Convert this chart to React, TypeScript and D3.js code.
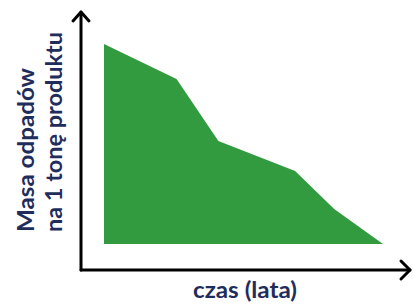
import React from 'react';
import * as d3 from 'd3';

// time (years, arbitrary units) and waste mass per tonne of product
const years = [0, 2.6, 4.1, 6.85, 8.25, 10];
const wasteMass = [100, 82.5, 51.5, 36.5, 17.5, 0];

const yLabelLines = ['Masa odpadów', 'na 1 tonę produktu'];
const xLabel = 'czas (lata)';

const W = 413;
const H = 304;
const navy = '#1f2d5c';
const green = '#339b3f';

const App = () => {
  const x = d3.scaleLinear().domain([0, 10]).range([104, 383]);
  const y = d3.scaleLinear().domain([0, 100]).range([244, 44]);

  const data = years.map((t, i) => ({ t, m: wasteMass[i] }));
  const area = d3.area<{ t: number; m: number }>()
    .x(d => x(d.t))
    .y0(y(0))
    .y1(d => y(d.m));

  const ax = 81;
  const ay = 270;

  return (
    <svg width={W} height={H} style={{ position: 'absolute', left: 0, top: 0 }}>
      <path d={area(data) || ''} fill={green} />

      <g stroke="#000" strokeWidth={3} fill="none" strokeLinecap="round" strokeLinejoin="round">
        <path d={`M${ax},${ay} L${ax},12`} />
        <path d={`M${ax - 8},21 L${ax},12 L${ax + 8},21`} />
        <path d={`M${ax},${ay} L410,${ay}`} />
        <path d={`M401,${ay - 9} L410,${ay} L401,${ay + 9}`} />
      </g>

      <g fill={navy} fontFamily="Lato, 'Open Sans', sans-serif" fontWeight="bold">
        {yLabelLines.map((t, i) => (
          <text key={t} transform={`translate(${34 + i * 28},232) rotate(-90)`} fontSize={23.5}
            textLength={i === 0 ? 164 : 200} lengthAdjust="spacingAndGlyphs">
            {t}
          </text>
        ))}
        <text x={245} y={298} textAnchor="middle" fontSize={22.5}
          textLength={104} lengthAdjust="spacingAndGlyphs">{xLabel}</text>
      </g>
    </svg>
  );
};

export default App;
